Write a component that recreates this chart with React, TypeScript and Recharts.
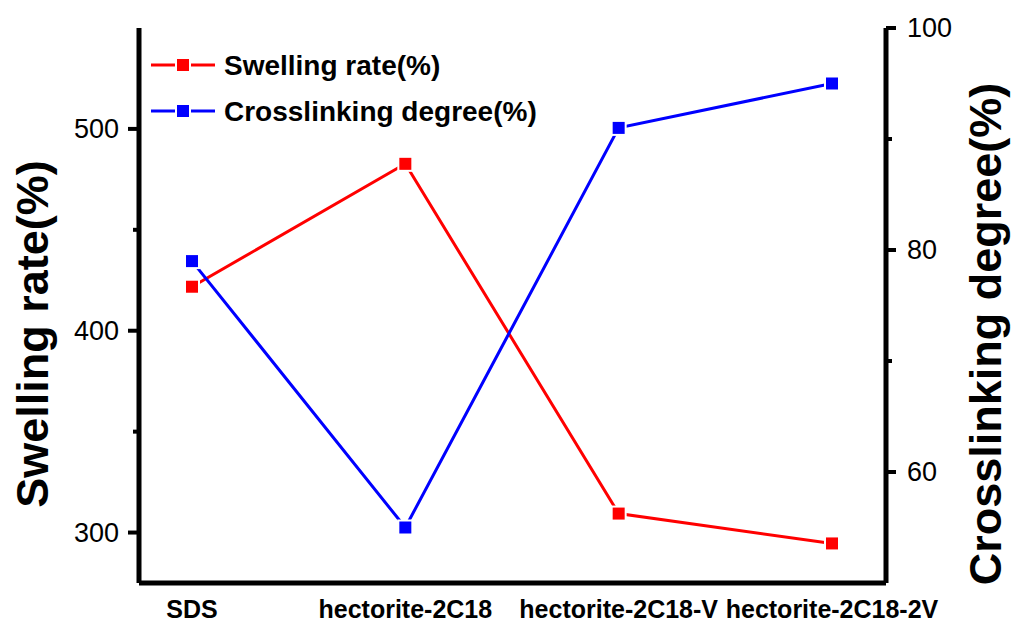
import React from 'react';
import { LineChart, Line, XAxis, YAxis } from 'recharts';

const categories = ['SDS', 'hectorite-2C18', 'hectorite-2C18-V', 'hectorite-2C18-2V'];
const swellingRate = [421.8, 482.7, 309.4, 294.6];
const crosslinkingDegree = [79.0, 55.0, 91.0, 95.0];

const leftTicks = [300, 350, 400, 450, 500];
const leftMajor = [300, 400, 500];
const rightTicks = [60, 70, 80, 90, 100];
const rightMajor = [60, 80, 100];

const data = categories.map((c, i) => ({
  name: c,
  swelling: swellingRate[i],
  crosslinking: crosslinkingDegree[i],
}));

const FONT = 'Liberation Sans, Arial, Helvetica, sans-serif';
const RED = '#ff0000';
const BLUE = '#0000ff';

const series = [
  { key: 'swelling', name: 'Swelling rate(%)', color: RED },
  { key: 'crosslinking', name: 'Crosslinking degree(%)', color: BLUE },
];

const LeftTick = (props: any) => {
  const { x, y, payload } = props;
  const major = leftMajor.includes(payload.value);
  return (
    <g>
      <line x1={x} x2={x - (major ? 11 : 6)} y1={y} y2={y} stroke="#000" strokeWidth={4} />
      {major && (
        <text x={x - 20} y={y} dy={9} textAnchor="end" fontSize={27} fontFamily={FONT} fill="#000">
          {payload.value}
        </text>
      )}
    </g>
  );
};

const RightTick = (props: any) => {
  const { x, y, payload } = props;
  const major = rightMajor.includes(payload.value);
  return (
    <g>
      <line x1={x} x2={x + (major ? 10 : 6)} y1={y} y2={y} stroke="#000" strokeWidth={4} />
      {major && (
        <text x={x + 21} y={y} dy={9} textAnchor="start" fontSize={27} fontFamily={FONT} fill="#000">
          {payload.value}
        </text>
      )}
    </g>
  );
};

const BottomTick = (props: any) => {
  const { x, y, payload } = props;
  return (
    <text x={x} y={y + 35} textAnchor="middle" fontSize={25} fontWeight="bold" fontFamily={FONT} fill="#000">
      {payload.value}
    </text>
  );
};

const makeDot = (color: string) => (props: any) => {
  const { cx, cy, index } = props;
  if (cx == null || cy == null) return <g key={index} />;
  return (
    <rect
      key={index}
      x={cx - 6}
      y={cy - 6}
      width={12}
      height={12}
      fill={color}
      stroke="#fff"
      strokeWidth={4}
      style={{ paintOrder: 'stroke' }}
    />
  );
};

const LegendBox = () => {
  const rows = [
    { ...series[0], cy: 25, base: 35 },
    { ...series[1], cy: 71, base: 81 },
  ];
  return (
    <svg width={430} height={100} style={{ position: 'absolute', left: 140, top: 40 }}>
      {rows.map((r) => (
        <g key={r.key}>
          <line x1={11} x2={35} y1={r.cy} y2={r.cy} stroke={r.color} strokeWidth={3} />
          <line x1={51} x2={75} y1={r.cy} y2={r.cy} stroke={r.color} strokeWidth={3} />
          <rect x={37} y={r.cy - 6} width={12} height={12} fill={r.color} />
          <text x={84} y={r.base} fontSize={28} fontWeight="bold" fontFamily={FONT} fill="#000">
            {r.name}
          </text>
        </g>
      ))}
    </svg>
  );
};

const LeftTitle = () => (
  <text
    x={48}
    y={334}
    transform="rotate(-90, 48, 334)"
    textAnchor="middle"
    fontSize={45}
    fontWeight="bold"
    fontFamily={FONT}
    fill="#000"
  >
    Swelling rate(%)
  </text>
);

const RightTitle = () => (
  <text
    x={1001}
    y={334}
    transform="rotate(-90, 1001, 334)"
    textAnchor="middle"
    fontSize={45}
    fontWeight="bold"
    fontFamily={FONT}
    fill="#000"
  >
    Crosslinking degree(%)
  </text>
);

export default function App() {
  return (
    <div style={{ position: 'absolute', left: 0, top: 0, width: 1014, height: 624, background: '#fff' }}>
      <LineChart width={1014} height={624} data={data} margin={{ top: 28, right: 0, bottom: 0, left: 0 }}>
        <XAxis
          dataKey="name"
          height={41}
          padding={{ left: 53, right: 54 }}
          axisLine={{ stroke: '#000', strokeWidth: 5 }}
          tickLine={false}
          tickSize={0}
          tickMargin={0}
          tick={<BottomTick />}
          interval={0}
        />
        <XAxis
          xAxisId="top"
          dataKey="name"
          orientation="top"
          height={0}
          axisLine={{ stroke: '#000', strokeWidth: 5 }}
          tick={false}
          tickLine={false}
        />
        <YAxis
          yAxisId="left"
          width={139}
          domain={[275, 550]}
          ticks={leftTicks}
          interval={0}
          axisLine={{ stroke: '#000', strokeWidth: 5 }}
          tickLine={false}
          tickSize={0}
          tickMargin={0}
          tick={<LeftTick />}
          label={{ content: () => <LeftTitle /> } as any}
        />
        <YAxis
          yAxisId="right"
          orientation="right"
          width={128}
          domain={[50, 100]}
          ticks={rightTicks}
          interval={0}
          axisLine={{ stroke: '#000', strokeWidth: 5 }}
          tickLine={false}
          tickSize={0}
          tickMargin={0}
          tick={<RightTick />}
          label={{ content: () => <RightTitle /> } as any}
        />
        <Line
          yAxisId="left"
          dataKey="swelling"
          name={series[0].name}
          type="linear"
          stroke={RED}
          strokeWidth={3}
          dot={makeDot(RED)}
          activeDot={false}
          isAnimationActive={false}
        />
        <Line
          yAxisId="right"
          dataKey="crosslinking"
          name={series[1].name}
          type="linear"
          stroke={BLUE}
          strokeWidth={3}
          dot={makeDot(BLUE)}
          activeDot={false}
          isAnimationActive={false}
        />
      </LineChart>
      <LegendBox />
    </div>
  );
}
